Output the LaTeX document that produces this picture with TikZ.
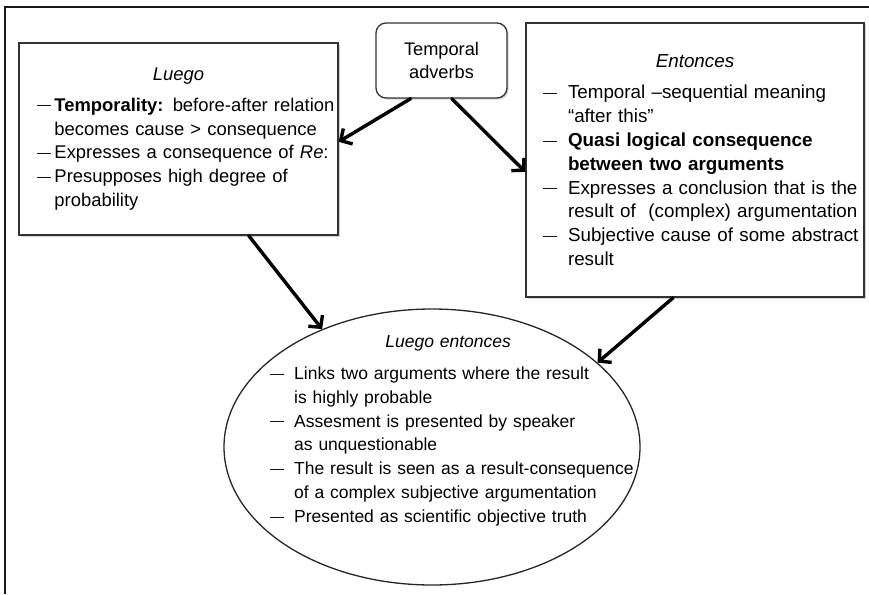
\documentclass[tikz,border=0pt]{standalone}
\usepackage{fontspec}
\setmainfont{Liberation Sans}
\usetikzlibrary{arrows.meta,shadows,shapes.geometric}

\newlength{\itemind}
\newcommand{\dashline}[1]{\par\noindent\hangindent=\itemind\hangafter=1%
  \makebox[\itemind][l]{\raisebox{1.3pt}{\fontsize{14}{14}\selectfont\textemdash}}#1}

\tikzset{
  paper/.style={line width=1.4pt, draw=black!90},
  adverbs/.style={
    draw=black!80, line width=1.3pt, fill=white,
    rounded corners=10pt,
    minimum width=131pt, minimum height=75pt,
    align=center, inner sep=0pt,
    font=\fontsize{18.2}{23}\selectfont,
    drop shadow={shadow xshift=1.5pt, shadow yshift=-1.5pt, opacity=0.35}
  },
  infobox/.style={
    draw=black!80, line width=1.4pt, fill=white,
    inner sep=0pt,
    drop shadow={shadow xshift=1.5pt, shadow yshift=-1.5pt, opacity=0.35}
  },
  resultoval/.style={
    ellipse, draw=black!85, line width=1.3pt,
    minimum width=416pt, minimum height=276pt, inner sep=0pt
  },
  ovaltext/.style={text width=356pt, inner sep=0pt, anchor=north west,
    font=\fontsize{17.5}{23.8}\selectfont},
  link/.style={-{Straight Barb[length=8.5pt,width=18pt]}, line width=3.4pt, line cap=round}
}

\begin{document}
\begin{tikzpicture}[x=1pt, y=-1pt]
            \useasboundingbox (0,0) rectangle (869,594);
            \draw[paper] (5,594) -- (5,7) -- (869,7);

            \node[adverbs] (adv) at (441.5,60.5) {Temporal\\adverbs};

            \node[infobox, minimum width=319pt, minimum height=192pt, text width=319pt,
                  font=\fontsize{18.4}{23.8}\selectfont] (luego) at (178.5,139) {
              {\centering\itshape Luego\par}\vspace{7pt}
              \setlength{\itemind}{17.5pt}\leftskip=18pt\rightskip=0pt plus 1fil
              \dashline{\mbox{\textbf{Temporality:} before-after relation}\newline\mbox{becomes cause > consequence}}
              \dashline{\mbox{Expresses a consequence of \textit{Re}:}}
              \dashline{\mbox{Presupposes high degree of}\newline\mbox{probability}}\par};

            \node[infobox, minimum width=338pt, minimum height=274pt, text width=338pt,
                  font=\fontsize{18.8}{23.8}\selectfont] (entonces) at (695,160) {
              {\centering\itshape Entonces\par}\vspace{8pt}
              \setlength{\itemind}{25pt}\leftskip=17pt\rightskip=0pt plus 1fil
              \dashline{\mbox{Temporal –sequential meaning}\newline\mbox{“after this”}}
              \dashline{\mbox{\textbf{Quasi logical consequence}}\newline\mbox{\textbf{between two arguments}}}
              \dashline{\mbox{Expresses a conclusion that is the}\newline\mbox{result of\ \ (complex) argumentation}}
              \dashline{\mbox{Subjective cause of some abstract}\newline\mbox{result}}\par};

            \node[resultoval] (both) at (432,447) {};
            \node[ovaltext] (bothtext) at (270,335.5) {
              {\centering\itshape Luego entonces\par}\vspace{8pt}
              \setlength{\itemind}{24pt}\rightskip=0pt plus 1fil
              \dashline{\mbox{Links two arguments where the result}\newline\mbox{is highly probable}}
              \dashline{\mbox{Assesment is presented by speaker}\newline\mbox{as unquestionable}}
              \dashline{\mbox{The result is seen as a result-consequence}\newline\mbox{of a complex subjective argumentation}}
              \dashline{\mbox{Presented as scientific objective truth}}\par};

            \draw[link] (adv.231.8) -- (luego.-1.4);
            \draw[link] (adv.285.6) -- (entonces.184.4);
            \draw[link] (luego.-54.5) -- (both.133.3);
            \draw[link] (entonces.261.7) -- (both.27.8);

        \end{tikzpicture}
\end{document}
